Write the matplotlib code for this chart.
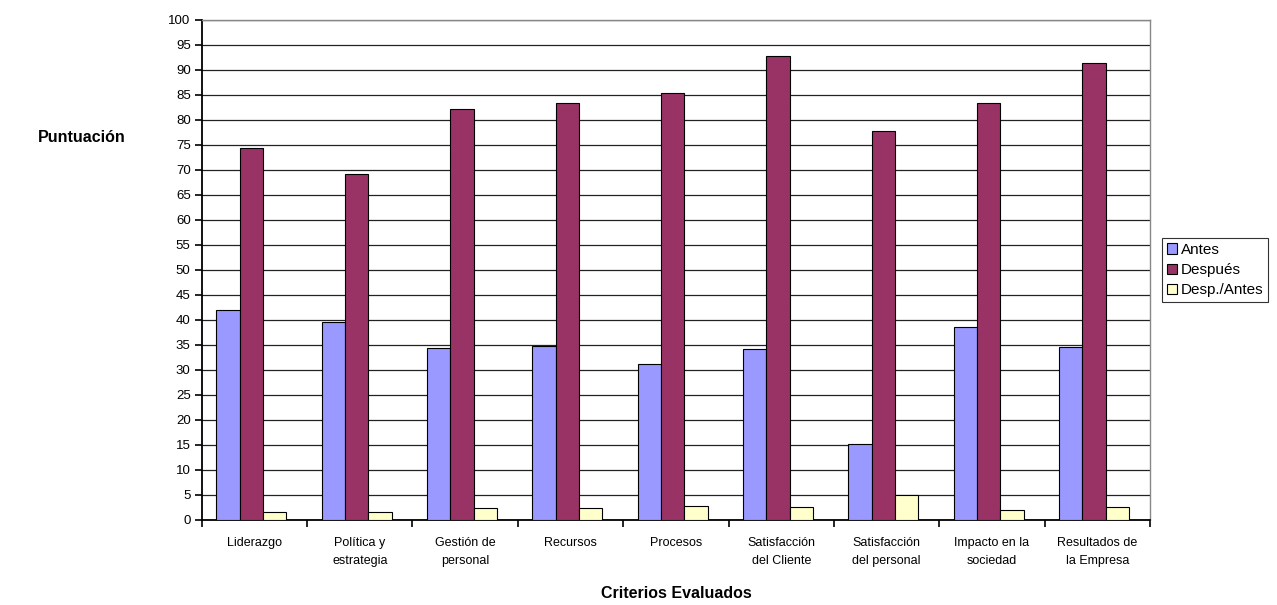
import numpy as np
import matplotlib
matplotlib.use("Agg")
import matplotlib.pyplot as plt

plt.rcParams['font.family'] = ['Liberation Sans', 'DejaVu Sans']

criterios = ["Liderazgo", "Política y\nestrategia", "Gestión de\npersonal", "Recursos",
             "Procesos", "Satisfacción\ndel Cliente", "Satisfacción\ndel personal",
             "Impacto en la\nsociedad", "Resultados de\nla Empresa"]
antes = [41.9, 39.5, 34.3, 34.8, 31.2, 34.1, 15.2, 38.5, 34.6]
despues = [74.3, 69.2, 82.2, 83.3, 85.4, 92.7, 77.7, 83.3, 91.4]
ratio = [1.67, 1.67, 2.33, 2.33, 2.8, 2.53, 5.07, 2.07, 2.53]

colores = ["#9999FF", "#993366", "#FFFFCC"]
nombres = ["Antes", "Después", "Desp./Antes"]

fig = plt.figure(figsize=(12.77, 6.05), dpi=100)
ax = fig.add_axes([0.158, 0.1405, 0.7425, 0.8265])

x = np.arange(len(criterios))
w = 0.222
for i, (serie, c, n) in enumerate(zip([antes, despues, ratio], colores, nombres)):
    ax.bar(x + (i - 1) * w - 0.03, serie, width=w, color=c, edgecolor="black",
           linewidth=0.8, label=n, zorder=3)

ax.set_xlim(-0.5, len(criterios) - 0.5)
ax.set_ylim(0, 100)
ax.set_yticks(np.arange(0, 101, 5))
ax.yaxis.grid(True, color="#222222", linewidth=0.9, zorder=0)

# ticks between categories, labels at the centres
ax.set_xticks(np.arange(-0.5, len(criterios), 1))
ax.set_xticklabels([])
ax.set_xticks(x, minor=True)
ax.set_xticklabels(criterios, minor=True, fontsize=9, linespacing=1.7)
ax.tick_params(axis="x", which="minor", length=0, pad=12)
ax.tick_params(axis="x", which="major", length=5, width=1.2, direction="out")
ax.tick_params(axis="y", length=5, width=1.2, direction="out", labelsize=9.5, pad=3)

for s in ["top", "right"]:
    ax.spines[s].set_color("#888888")
    ax.spines[s].set_linewidth(1)
for s in ["left", "bottom"]:
    ax.spines[s].set_linewidth(1.3)

fig.text(82 / 1277, 1 - 138 / 605, "Puntuación", fontsize=11.5, fontweight="bold",
         ha="center", va="center")
fig.text(676 / 1277, 1 - 593 / 605, "Criterios Evaluados", fontsize=11.5,
         fontweight="bold", ha="center", va="center")

leg = fig.legend(loc="center left", bbox_to_anchor=(1162 / 1277, 1 - 270 / 605),
                 fontsize=11, frameon=True, fancybox=False, handlelength=0.65,
                 handleheight=0.65, handletextpad=0.3, borderpad=0.3,
                 labelspacing=0.4, borderaxespad=0)
leg.get_frame().set_edgecolor("black")
leg.get_frame().set_linewidth(0.8)

fig.savefig("out.png", dpi=100)
